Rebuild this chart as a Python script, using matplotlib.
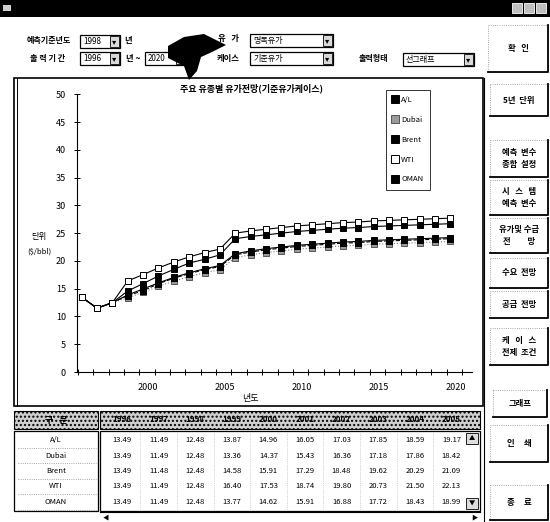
import matplotlib.pyplot as plt
from matplotlib.patches import Rectangle, Polygon
from matplotlib.lines import Line2D
import matplotlib.transforms as mtransforms

plt.rcParams['font.family'] = ['Noto Sans CJK KR', 'DejaVu Sans']

# ---- data ----
years = list(range(1996, 2021))
al = [13.49, 11.49, 12.48, 13.87, 14.96, 16.05, 17.03, 17.85, 18.59, 19.17,
      21.3, 21.8, 22.2, 22.5, 22.8, 23.0, 23.2, 23.4, 23.5, 23.7, 23.8, 23.9, 24.0, 24.1, 24.2]
dubai = [13.49, 11.49, 12.48, 13.36, 14.37, 15.43, 16.36, 17.18, 17.86, 18.42,
         20.6, 21.1, 21.5, 21.8, 22.1, 22.3, 22.5, 22.7, 22.8, 23.0, 23.1, 23.2, 23.3, 23.4, 23.5]
brent = [13.49, 11.48, 12.48, 14.58, 15.91, 17.29, 18.48, 19.62, 20.29, 21.09,
         24.0, 24.4, 24.7, 25.0, 25.3, 25.5, 25.7, 25.9, 26.0, 26.2, 26.3, 26.4, 26.5, 26.6, 26.7]
wti = [13.49, 11.49, 12.48, 16.40, 17.53, 18.74, 19.80, 20.73, 21.50, 22.13,
       25.0, 25.4, 25.7, 26.0, 26.3, 26.5, 26.7, 26.9, 27.0, 27.2, 27.3, 27.4, 27.5, 27.6, 27.7]
oman = [13.49, 11.49, 12.48, 13.77, 14.62, 15.91, 16.88, 17.72, 18.43, 18.99,
        21.1, 21.6, 22.0, 22.3, 22.6, 22.8, 23.0, 23.2, 23.3, 23.5, 23.6, 23.7, 23.8, 23.9, 24.0]
series_names = ['A/L', 'Dubai', 'Brent', 'WTI', 'OMAN']
series_values = [al, dubai, brent, wti, oman]
table_years = years[:10]

chart_title = '주요 유종별 유가전망(기준유가케이스)'
label_years = [2000, 2005, 2010, 2015, 2020]

W, H = 550, 522
fig = plt.figure(figsize=(5.5, 5.22), dpi=100)
fig.patch.set_facecolor('white')

# background "window" drawn in pixel coordinates
ui = fig.add_axes([0, 0, 1, 1], zorder=0)
ui.set_xlim(0, W)
ui.set_ylim(H, 0)
ui.axis('off')

KR = ['Noto Sans CJK KR', 'DejaVu Sans']


def txt(x, y, s, size=6, weight='bold', ha='center', **kw):
    ui.text(x, y, s, fontsize=size, fontweight=weight, ha=ha, va='center', family=KR, **kw)


def combo(x0, y0, x1, y1, s):
    ui.add_patch(Rectangle((x0, y0), x1 - x0, y1 - y0, fill=True, fc='white', ec='black', lw=0.9))
    ui.add_patch(Rectangle((x1 - 10, y0 + 1), 9, y1 - y0 - 2, fc='#d9d9d9', ec='black', lw=0.6))
    ui.text(x1 - 5.5, (y0 + y1) / 2, '▾', fontsize=6, ha='center', va='center', family=KR)
    txt(x0 + 3, (y0 + y1) / 2, s, size=5.8, weight='normal', ha='left')


def button(x0, y0, x1, y1, lines, size=6):
    ui.add_patch(Rectangle((x0, y0), x1 - x0, y1 - y0, fc='white', ec='#8a8a8a', lw=0.6, ls=':'))
    ui.plot([x1, x1, x0], [y0, y1, y1], color='black', lw=1.3)
    n = len(lines)
    cy = (y0 + y1) / 2
    for i, s in enumerate(lines):
        txt((x0 + x1) / 2, cy + (i - (n - 1) / 2) * 12, s, size=size)


# title bar
ui.add_patch(Rectangle((0, 0), W, 17, fc='black', ec='none'))
ui.add_patch(Rectangle((3, 5), 8, 6, fc='#d0d0d0', ec='none'))
for bx in (512, 524, 536):
    ui.add_patch(Rectangle((bx, 3), 10, 10, fc='#bfbfbf', ec='white', lw=0.6))

# control rows
txt(49, 41, '예측기준년도', size=5.8)
combo(80, 35, 120, 48, '1998')
txt(128, 41, '년', size=6)
txt(228, 39, '유   가', size=6)
combo(250, 34, 333, 47, '명목유가')
txt(48, 59, '출 력 기 간', size=5.8)
combo(80, 52, 120, 65, '1996')
txt(133, 59, '년 ~', size=6)
combo(145, 52, 186, 65, '2020')
txt(228, 59, '케이스', size=6)
combo(250, 52, 333, 65, '기준유가')
txt(373, 59, '출력형태', size=5.8)
combo(403, 53, 474, 66, '선그래프')
# ink blotch on the scan
ui.add_patch(Polygon([(168, 46), (184, 37), (204, 34), (226, 45), (212, 52), (201, 57),
                      (197, 71), (189, 80), (184, 66), (168, 58)], fc='black', ec='none'))

# right-side buttons
ui.plot([484, 484], [78, 522], color='black', lw=0.8)
button(488, 25, 548, 72, ['확   인'])
button(490, 84, 548, 116, ['5년  단위'])
button(490, 140, 548, 177, ['예측  변수', '종합  설정'])
button(490, 180, 548, 215, ['시   스   템', '예측  변수'])
button(490, 218, 548, 253, ['유가및 수급', '전         망'])
button(490, 258, 548, 288, ['수요  전망'])
button(490, 291, 548, 318, ['공급  전망'])
button(490, 328, 548, 365, ['케   이   스', '전제  조건'])
button(493, 390, 547, 417, ['그래프'])
button(490, 425, 548, 462, ['인     쇄'])
button(490, 485, 548, 520, ['종     료'])

# chart frame
ui.add_patch(Rectangle((14, 78), 469, 328, fill=False, ec='black', lw=1.2))
ui.plot([16.5, 16.5], [78, 406], color='black', lw=0.7)

# table
ui.add_patch(Rectangle((14, 411), 84, 18, fc='#cfcfcf', ec='black', lw=0.8, hatch='....'))
ui.add_patch(Rectangle((100, 411), 380, 18, fc='#cfcfcf', ec='black', lw=0.8, hatch='....'))
ui.add_patch(Rectangle((14, 431), 84, 80, fc='white', ec='black', lw=0.9))
ui.add_patch(Rectangle((100, 431), 380, 80, fc='white', ec='black', lw=0.9))
txt(56, 420, '구   분', size=6.5)
col_w = 36.6
for j, yr in enumerate(table_years):
    cx = 122 + j * col_w
    txt(cx, 420, str(yr), size=5.8)
row_h = 15.5
for i, (name, vals) in enumerate(zip(series_names, series_values)):
    cy = 440 + i * row_h
    txt(56, cy, name, size=5.5, weight='normal')
    ui.plot([18, 96], [cy + 7.5, cy + 7.5], color='#888888', lw=0.6, ls=':')
    for j in range(len(table_years)):
        cx = 122 + j * col_w
        txt(cx, cy, f'{vals[j]:.2f}', size=5.5, weight='normal')
for j in range(1, len(table_years)):
    x = 122 + (j - 0.5) * col_w
    ui.plot([x, x], [433, 510], color='#aaaaaa', lw=0.5, ls=':')
# scrollbars
ui.add_patch(Rectangle((466, 433), 12, 11, fc='#dddddd', ec='black', lw=0.6))
ui.text(472, 438.5, '▲', fontsize=4.5, ha='center', va='center')
ui.add_patch(Rectangle((466, 498), 12, 11, fc='#dddddd', ec='black', lw=0.6))
ui.text(472, 503.5, '▼', fontsize=4.5, ha='center', va='center')
ui.plot([100, 480], [512, 512], color='black', lw=0.8)
ui.text(106, 517, '◀', fontsize=4.5, ha='center', va='center')
ui.text(474, 517, '▶', fontsize=4.5, ha='center', va='center')

# ---- chart ----
x0, x1, y0, y1 = 77, 472, 372, 94.3
ax = fig.add_axes([x0 / W, 1 - y0 / H, (x1 - x0) / W, (y0 - y1) / H], zorder=2)
ax.patch.set_alpha(0)

styles = {
    'A/L': dict(color='black', ls='-', mfc='black', mec='black'),
    'Dubai': dict(color='#808080', ls=':', mfc='#9a9a9a', mec='#555555'),
    'Brent': dict(color='black', ls='-', mfc='black', mec='black'),
    'WTI': dict(color='black', ls='-', mfc='white', mec='black'),
    'OMAN': dict(color='black', ls='--', mfc='black', mec='black'),
}
order = ['Dubai', 'OMAN', 'A/L', 'Brent', 'WTI']
handles = {}
for name in order:
    vals = series_values[series_names.index(name)]
    st = styles[name]
    ax.plot(years, vals, color=st['color'], ls=st['ls'], lw=0.8,
            marker='s', ms=4.2, mfc=st['mfc'], mec=st['mec'], mew=0.7)
    handles[name] = Line2D([], [], ls='none', marker='s', ms=6,
                           mfc=st['mfc'], mec=st['mec'], mew=0.7)

ax.set_xlim(1995.7, 2021.4)
ax.set_ylim(0, 50)
for sp in ('top', 'right'):
    ax.spines[sp].set_visible(False)
ax.spines['left'].set_linewidth(0.8)
ax.spines['bottom'].set_linewidth(0.8)

ax.set_yticks(range(0, 51, 5))
ax.tick_params(axis='y', direction='inout', length=4, width=0.7, labelsize=6.5, pad=6)
ax.set_xticks(label_years)
ax.tick_params(axis='x', which='major', length=0, labelsize=6.5, pad=8)
ax.set_xticks([y - 0.25 for y in years] + [2020.75], minor=True)
ax.tick_params(axis='x', which='minor', direction='inout', length=4, width=0.7)
shift = mtransforms.ScaledTranslation(5 / 100, 0, fig.dpi_scale_trans)
for lab in ax.get_xticklabels():
    lab.set_transform(lab.get_transform() + shift)

ui.text(251, 88, chart_title, fontsize=6.5, fontweight='bold', ha='center', va='center', family=KR)
ui.text(39, 236, '단위', fontsize=6, ha='center', va='center', family=KR)
ui.text(39, 252, '($/bbl)', fontsize=5.5, ha='center', va='center', family=KR)
ui.text(250, 398, '년도', fontsize=6.5, ha='center', va='center', family=KR)

leg = ax.legend([handles[n] for n in series_names], series_names,
                loc='upper left', bbox_to_anchor=(386 / W, 1 - 90 / H),
                bbox_transform=fig.transFigure, fontsize=5.5, frameon=True,
                fancybox=False, edgecolor='black', labelspacing=1.55,
                handlelength=0.8, handletextpad=0.4, borderpad=0.8,
                borderaxespad=0)
leg.get_frame().set_linewidth(0.7)

fig.savefig('out.png', dpi=100)
